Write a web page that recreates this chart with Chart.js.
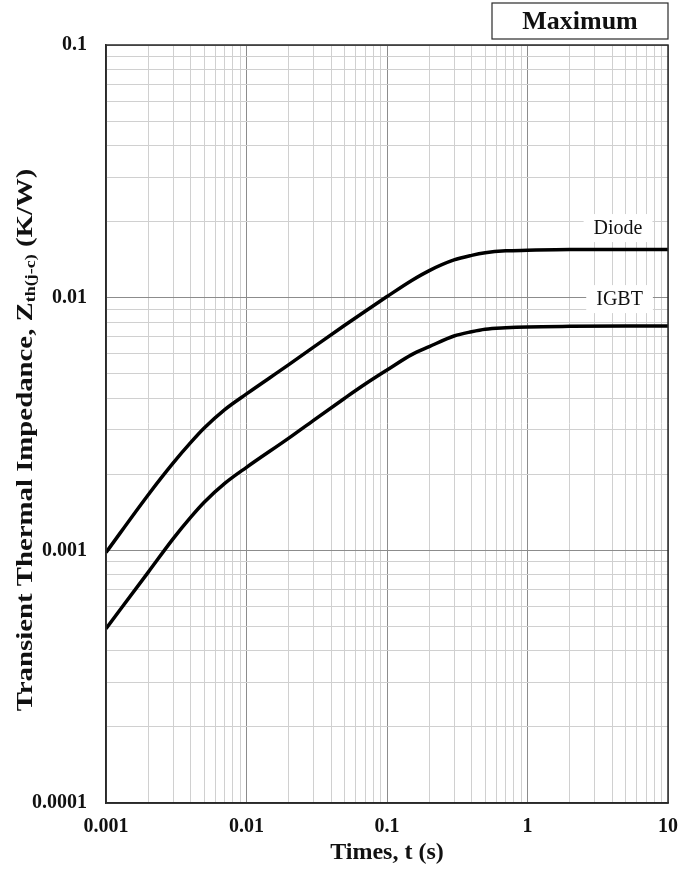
<!DOCTYPE html>
<html>
<head>
<meta charset="utf-8">
<script src="https://cdn.jsdelivr.net/npm/chart.js@4.4.1/dist/chart.umd.min.js"></script>
<style>
  html, body { margin: 0; padding: 0; background: #fff; }
  #wrap { width: 694px; height: 872px; }
</style>
</head>
<body>
<div id="wrap"><canvas id="chart" width="694" height="872"></canvas></div>
<script>
// Transient thermal impedance (maximum), junction to case
const times = [0.001, 0.002, 0.003, 0.004, 0.005, 0.007, 0.01, 0.02, 0.03, 0.05, 0.07,
               0.1, 0.15, 0.2, 0.3, 0.4, 0.5, 0.7, 1, 2, 5, 10];
const diodeZth = [0.00098, 0.00166, 0.002213, 0.002667, 0.003048, 0.003606, 0.00416, 0.00543, 0.00637, 0.00778, 0.00884,
                  0.0101, 0.0117, 0.0128, 0.0141, 0.0147, 0.01505, 0.01532, 0.0154, 0.0155, 0.0155, 0.0155];
const igbtZth = [0.00049, 0.00082, 0.00111, 0.00135, 0.00155, 0.00184, 0.00213, 0.00278, 0.00327, 0.004, 0.00455,
                 0.00517, 0.00595, 0.0064, 0.00705, 0.00733, 0.0075, 0.0076, 0.00766, 0.0077, 0.00772, 0.00772];

const xMajorLabels = ['0.001', '0.01', '0.1', '1', '10'];
const yMajorLabels = ['0.0001', '0.001', '0.01', '0.1'];

// Curve names and where they are written (time, impedance)
const curveNames = ['Diode', 'IGBT'];
const curveNamePos = [[4.41, 0.01886], [4.52, 0.00987]];

const titleText = 'Maximum';

// 1..9 x 10^n grid values for every decade between the major labels
function decadeTicks(labels) {
  const out = [];
  const majors = labels.map(Number);
  for (let i = 0; i < majors.length - 1; i++) {
    for (let k = 1; k <= 9; k++) out.push(+(majors[i] * k).toPrecision(3));
  }
  out.push(majors[majors.length - 1]);
  return out;
}
function isDecade(v) {
  const l = Math.log10(v);
  return Math.abs(l - Math.round(l)) < 1e-9;
}
function labelFor(v, labels) {
  const hit = labels.find(s => Math.abs(Number(s) - v) / v < 1e-9);
  return hit === undefined ? '' : hit;
}

const serif = "'Liberation Serif', 'Times New Roman', serif";
const gridColor = ctx => (ctx.tick && isDecade(ctx.tick.value)) ? '#8c8c8c' : '#d0d0d0';

// Frame, heading box, curve names, and y-axis title with subscript
const decorations = {
  id: 'decorations',
  afterDatasetsDraw(chart) {
    const { ctx, chartArea: a, scales } = chart;
    ctx.save();
    // curve names on white patches
    ctx.font = '20px ' + serif;
    ctx.textAlign = 'center';
    ctx.textBaseline = 'middle';
    curveNames.forEach((name, i) => {
      const px = scales.x.getPixelForValue(curveNamePos[i][0]);
      const py = scales.y.getPixelForValue(curveNamePos[i][1]);
      const w = ctx.measureText(name).width;
      ctx.fillStyle = '#fff';
      ctx.fillRect(px - w / 2 - 10, py - 14, w + 20, 28);
      ctx.fillStyle = '#111';
      ctx.fillText(name, px, py + 1);
    });
    // plot frame
    ctx.strokeStyle = '#2a2a2a';
    ctx.lineWidth = 1.5;
    ctx.strokeRect(a.left, a.top, a.right - a.left, a.bottom - a.top);
    ctx.restore();
  },
  afterDraw(chart) {
    const { ctx, chartArea: a } = chart;
    ctx.save();
    // heading box above the top-right corner
    const bx = 492, by = 3, bw = a.right - 492, bh = 36;
    ctx.strokeStyle = '#2a2a2a';
    ctx.lineWidth = 1.2;
    ctx.strokeRect(bx, by, bw, bh);
    ctx.fillStyle = '#111';
    ctx.font = 'bold 26px ' + serif;
    ctx.textAlign = 'center';
    ctx.textBaseline = 'middle';
    ctx.fillText(titleText, bx + bw / 2, by + bh / 2 + 1);

    // y-axis title: Transient Thermal Impedance, Z_th(j-c) (K/W)
    const parts = [
      { t: 'Transient Thermal Impedance, Z', f: 'bold 24px ' + serif, dy: 0 },
      { t: 'th(j-c)', f: 'bold 15px ' + serif, dy: 5 },
      { t: ' (K/W)', f: 'bold 24px ' + serif, dy: 0 }
    ];
    let total = 0;
    parts.forEach(p => { ctx.font = p.f; p.w = ctx.measureText(p.t).width; total += p.w; });
    const cx = 26, cy = 440;
    ctx.translate(cx, cy);
    ctx.rotate(-Math.PI / 2);
    ctx.scale(1.2, 1);
    ctx.textAlign = 'left';
    ctx.textBaseline = 'middle';
    let x = -total / 2;
    parts.forEach(p => {
      ctx.font = p.f;
      ctx.fillText(p.t, x, p.dy);
      x += p.w;
    });
    ctx.restore();
  }
};

const makeSet = (label, values) => ({
  label,
  data: times.map((t, i) => ({ x: t, y: values[i] })),
  showLine: true,
  borderColor: '#000',
  borderWidth: 3.5,
  pointRadius: 0,
  fill: false,
  cubicInterpolationMode: 'monotone'
});

new Chart(document.getElementById('chart'), {
  type: 'scatter',
  data: { datasets: [makeSet('Diode', diodeZth), makeSet('IGBT', igbtZth)] },
  options: {
    responsive: false,
    animation: false,
    devicePixelRatio: 1,
    layout: { padding: { top: 45, right: 26, left: 0, bottom: 0 } },
    plugins: { legend: { display: false }, tooltip: { enabled: false } },
    scales: {
      x: {
        type: 'logarithmic',
        position: 'bottom',
        min: 0.001,
        max: 10,
        afterBuildTicks: s => { s.ticks = decadeTicks(xMajorLabels).map(v => ({ value: v, major: isDecade(v) })); },
        afterFit: s => { s.height = 69; },
        grid: { color: gridColor, lineWidth: 1, drawTicks: false },
        border: { color: '#2a2a2a', width: 1.5 },
        ticks: {
          autoSkip: false,
          maxRotation: 0,
          padding: 12,
          color: '#111',
          font: { family: serif, weight: 'bold', size: 20 },
          callback: v => labelFor(v, xMajorLabels)
        },
        title: {
          display: true,
          text: 'Times, t (s)',
          color: '#111',
          font: { family: serif, weight: 'bold', size: 24 },
          padding: { top: 0, bottom: 5 }
        }
      },
      y: {
        type: 'logarithmic',
        min: 0.0001,
        max: 0.1,
        afterBuildTicks: s => { s.ticks = decadeTicks(yMajorLabels).map(v => ({ value: v, major: isDecade(v) })); },
        afterFit: s => { s.width = 106; },
        grid: { color: gridColor, lineWidth: 1, drawTicks: false },
        border: { color: '#2a2a2a', width: 1.5 },
        ticks: {
          autoSkip: false,
          padding: 19,
          color: '#111',
          font: { family: serif, weight: 'bold', size: 20 },
          callback: v => labelFor(v, yMajorLabels)
        }
      }
    }
  },
  plugins: [decorations]
});
</script>
</body>
</html>
